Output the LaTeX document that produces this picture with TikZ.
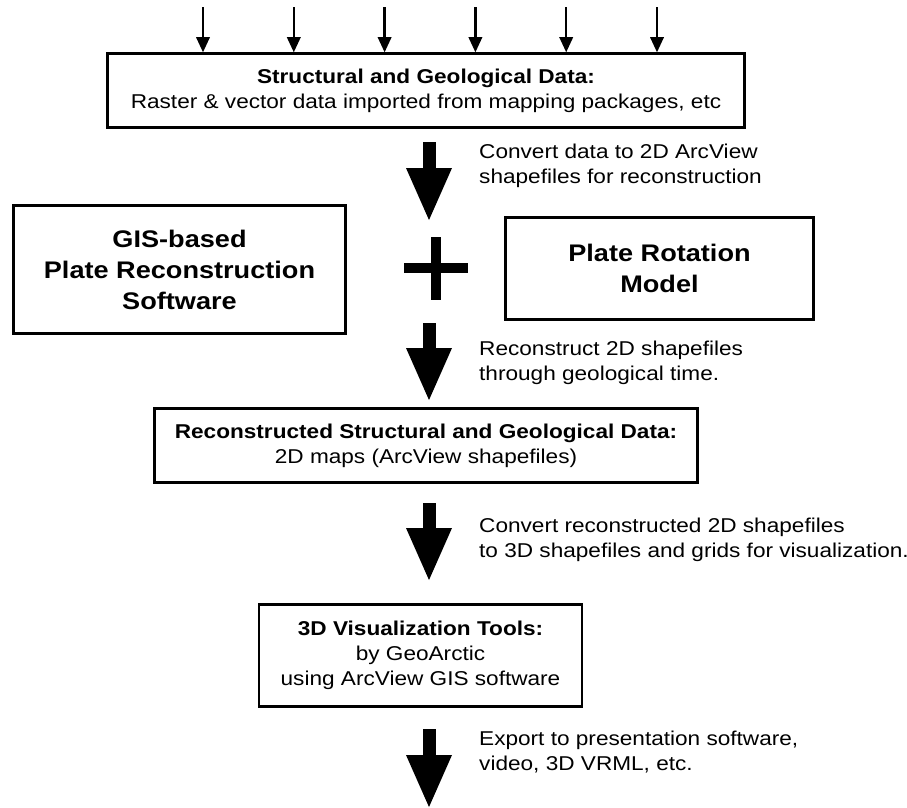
\documentclass[tikz,border=0pt]{standalone}
\usepackage{fontspec}
\setmainfont{Liberation Sans}[FakeStretch=1.13]
\usetikzlibrary{arrows.meta}

\tikzset{
	flowbox/.style={draw, line width=2.6pt, align=center, inner sep=0pt},
	txt/.style={font=\fontsize{20}{25}\selectfont},
	bigtxt/.style={font=\fontsize{24}{31}\selectfont\bfseries},
	note/.style={font=\fontsize{20}{25}\selectfont, align=left, anchor=north west, inner sep=0pt},
	bigarrow/.style={line width=13pt, -{Triangle[width=46pt,length=52pt,line width=0pt]}},
	smallarrow/.style={line width=2.5pt, -{Triangle[width=14pt,length=15pt,line width=0pt]}},
	plusline/.style={line width=9.5pt}
}

\begin{document}
\begin{tikzpicture}[x=1pt,y=-1pt]
	\useasboundingbox (0,0) rectangle (907,807);

	% boxes
	\node (data) at (426,90.5) [flowbox,txt,minimum width=637pt,minimum height=74pt] {\textbf{Structural and Geological Data:}\\Raster \& vector data imported from mapping packages, etc};
	\node (gis) at (179.5,269.5) [flowbox,bigtxt,minimum width=332pt,minimum height=128pt] {GIS-based\\Plate Reconstruction\\Software};
	\node (rot) at (659.5,268.5) [flowbox,bigtxt,minimum width=308pt,minimum height=102pt] {Plate Rotation\\Model};
	\node (recon) at (426,445.5) [flowbox,txt,minimum width=543pt,minimum height=74pt] {\textbf{Reconstructed Structural and Geological Data:}\\2D maps (ArcView shapefiles)};
	\node (vis) at (420.5,655.5) [flowbox,txt,minimum width=323pt,minimum height=102pt] {\textbf{3D Visualization Tools:}\\by GeoArctic\\using ArcView GIS software};

	% inputs on top
	\foreach \i/\x in {1/203,2/293.8,3/384.6,4/475.4,5/566.2,6/657}{
		\coordinate (in\i) at (\x,7);
		\draw[smallarrow] (in\i) -- (in\i |- data.north);
	}

	% big arrows
	\coordinate (s1) at (429,142);
	\coordinate (e1) at (429,220);
	\coordinate (s2) at (429,323);
	\coordinate (e2) at (429,400);
	\coordinate (s3) at (429,503);
	\coordinate (e3) at (429,580);
	\coordinate (s4) at (429,729);
	\coordinate (e4) at (429,807);
	\draw[bigarrow] (s1) -- (e1);
	\draw[bigarrow] (s2) -- (e2);
	\draw[bigarrow] (s3) -- (e3);
	\draw[bigarrow] (s4) -- (e4);

	% plus sign
	\coordinate (plus) at (436,268);
	\draw[plusline] (plus) ++(0,-31) -- ++(0,63);
	\draw[plusline] (plus) ++(-32,0) -- ++(64,0);

	% notes
	\node (n1) at (479,144) [note] {Convert data to 2D ArcView\\shapefiles for reconstruction};
	\node (n2) at (479,341) [note] {Reconstruct 2D shapefiles\\through geological time.};
	\node (n3) at (479,518) [note] {Convert reconstructed 2D shapefiles\\to 3D shapefiles and grids for visualization.};
	\node (n4) at (479,731) [note] {Export to presentation software,\\video, 3D VRML, etc.};
\end{tikzpicture}
\end{document}
